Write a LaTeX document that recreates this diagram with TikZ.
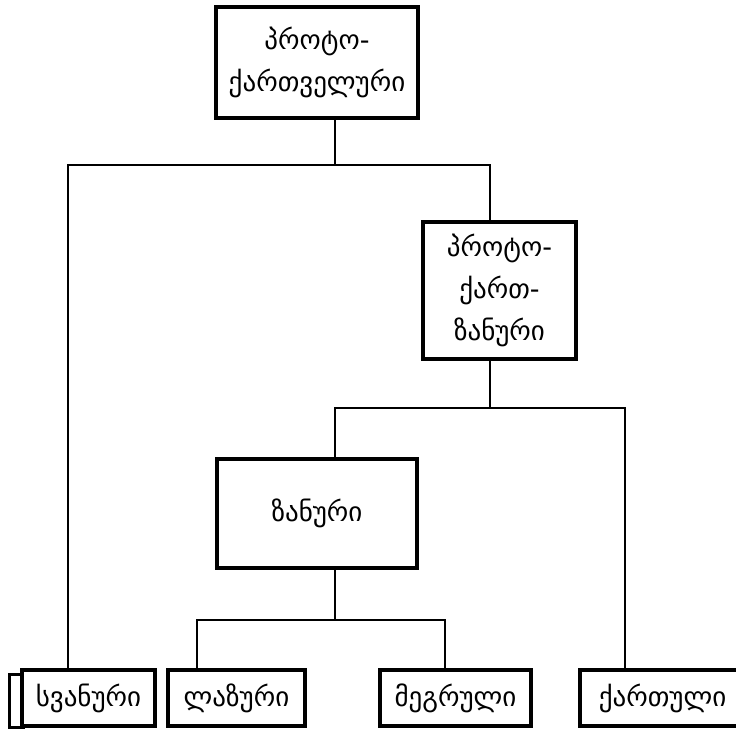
\documentclass[tikz,border=0pt]{standalone}
\usepackage{fontspec}
\newfontfamily\kafont[Script=Georgian]{DejaVu Sans}
\usepackage{tikz}
\usetikzlibrary{positioning, calc}
\tikzset{
  langbox/.style={
    draw, line width=4pt, align=center, fill=white,
    inner sep=0pt, font=\kafont\fontsize{27}{42}\selectfont
  },
  leafbox/.style={langbox, minimum height=56pt},
  backbox/.style={draw, line width=3pt, fill=white, inner sep=0pt},
  link/.style={line width=2pt},
}

\begin{document}
\begin{tikzpicture}[x=1pt, y=-1pt]
  \clip (0,0) rectangle (736,731);
  \fill[white] (0,0) rectangle (736,731);

  % Proto-Kartvelian
  \node[langbox, minimum width=202pt, minimum height=111pt] (root) at (317,62.5) {პროტო-\\ქართველური};

  % Proto-Karto-Zan
  \node[langbox, minimum width=153pt, minimum height=137pt] (kartzan) at (499.5,290) {პროტო-\\ქართ-\\ზანური};

  % Zan
  \node[langbox, minimum width=200pt, minimum height=109pt] (zan) at (317,513.5) {ზანური};

  % Leaves
  \node[backbox, minimum width=14pt, minimum height=53pt] (svanback) at (16,700.5) {};
  \node[leafbox, minimum width=133pt] (svan) at (88.5,698) {სვანური};
  \node[leafbox, minimum width=137pt] (laz) at (236.5,698) {ლაზური};
  \node[leafbox, minimum width=151pt] (megr) at (455.5,698) {მეგრული};
  \node[leafbox, minimum width=165pt] (kart) at (662.5,698) {ქართული};

  % Junctions
  \coordinate (split1) at (335,165);
  \coordinate (split2) at (490,408);
  \coordinate (split3) at (335,620);

  % Connectors
  \draw[link] ([xshift=18pt]root.south) -- (split1);
  \draw[link] ([xshift=-20.5pt]svan.north) |- (split1) -| ([xshift=-9.5pt]kartzan.north);
  \draw[link] ([xshift=-9.5pt]kartzan.south) -- (split2);
  \draw[link] ([xshift=18pt]zan.north) |- (split2) -| ([xshift=-37.5pt]kart.north);
  \draw[link] ([xshift=18pt]zan.south) -- (split3);
  \draw[link] ([xshift=-39.5pt]laz.north) |- (split3) -| ([xshift=-10.5pt]megr.north);
\end{tikzpicture}
\end{document}
